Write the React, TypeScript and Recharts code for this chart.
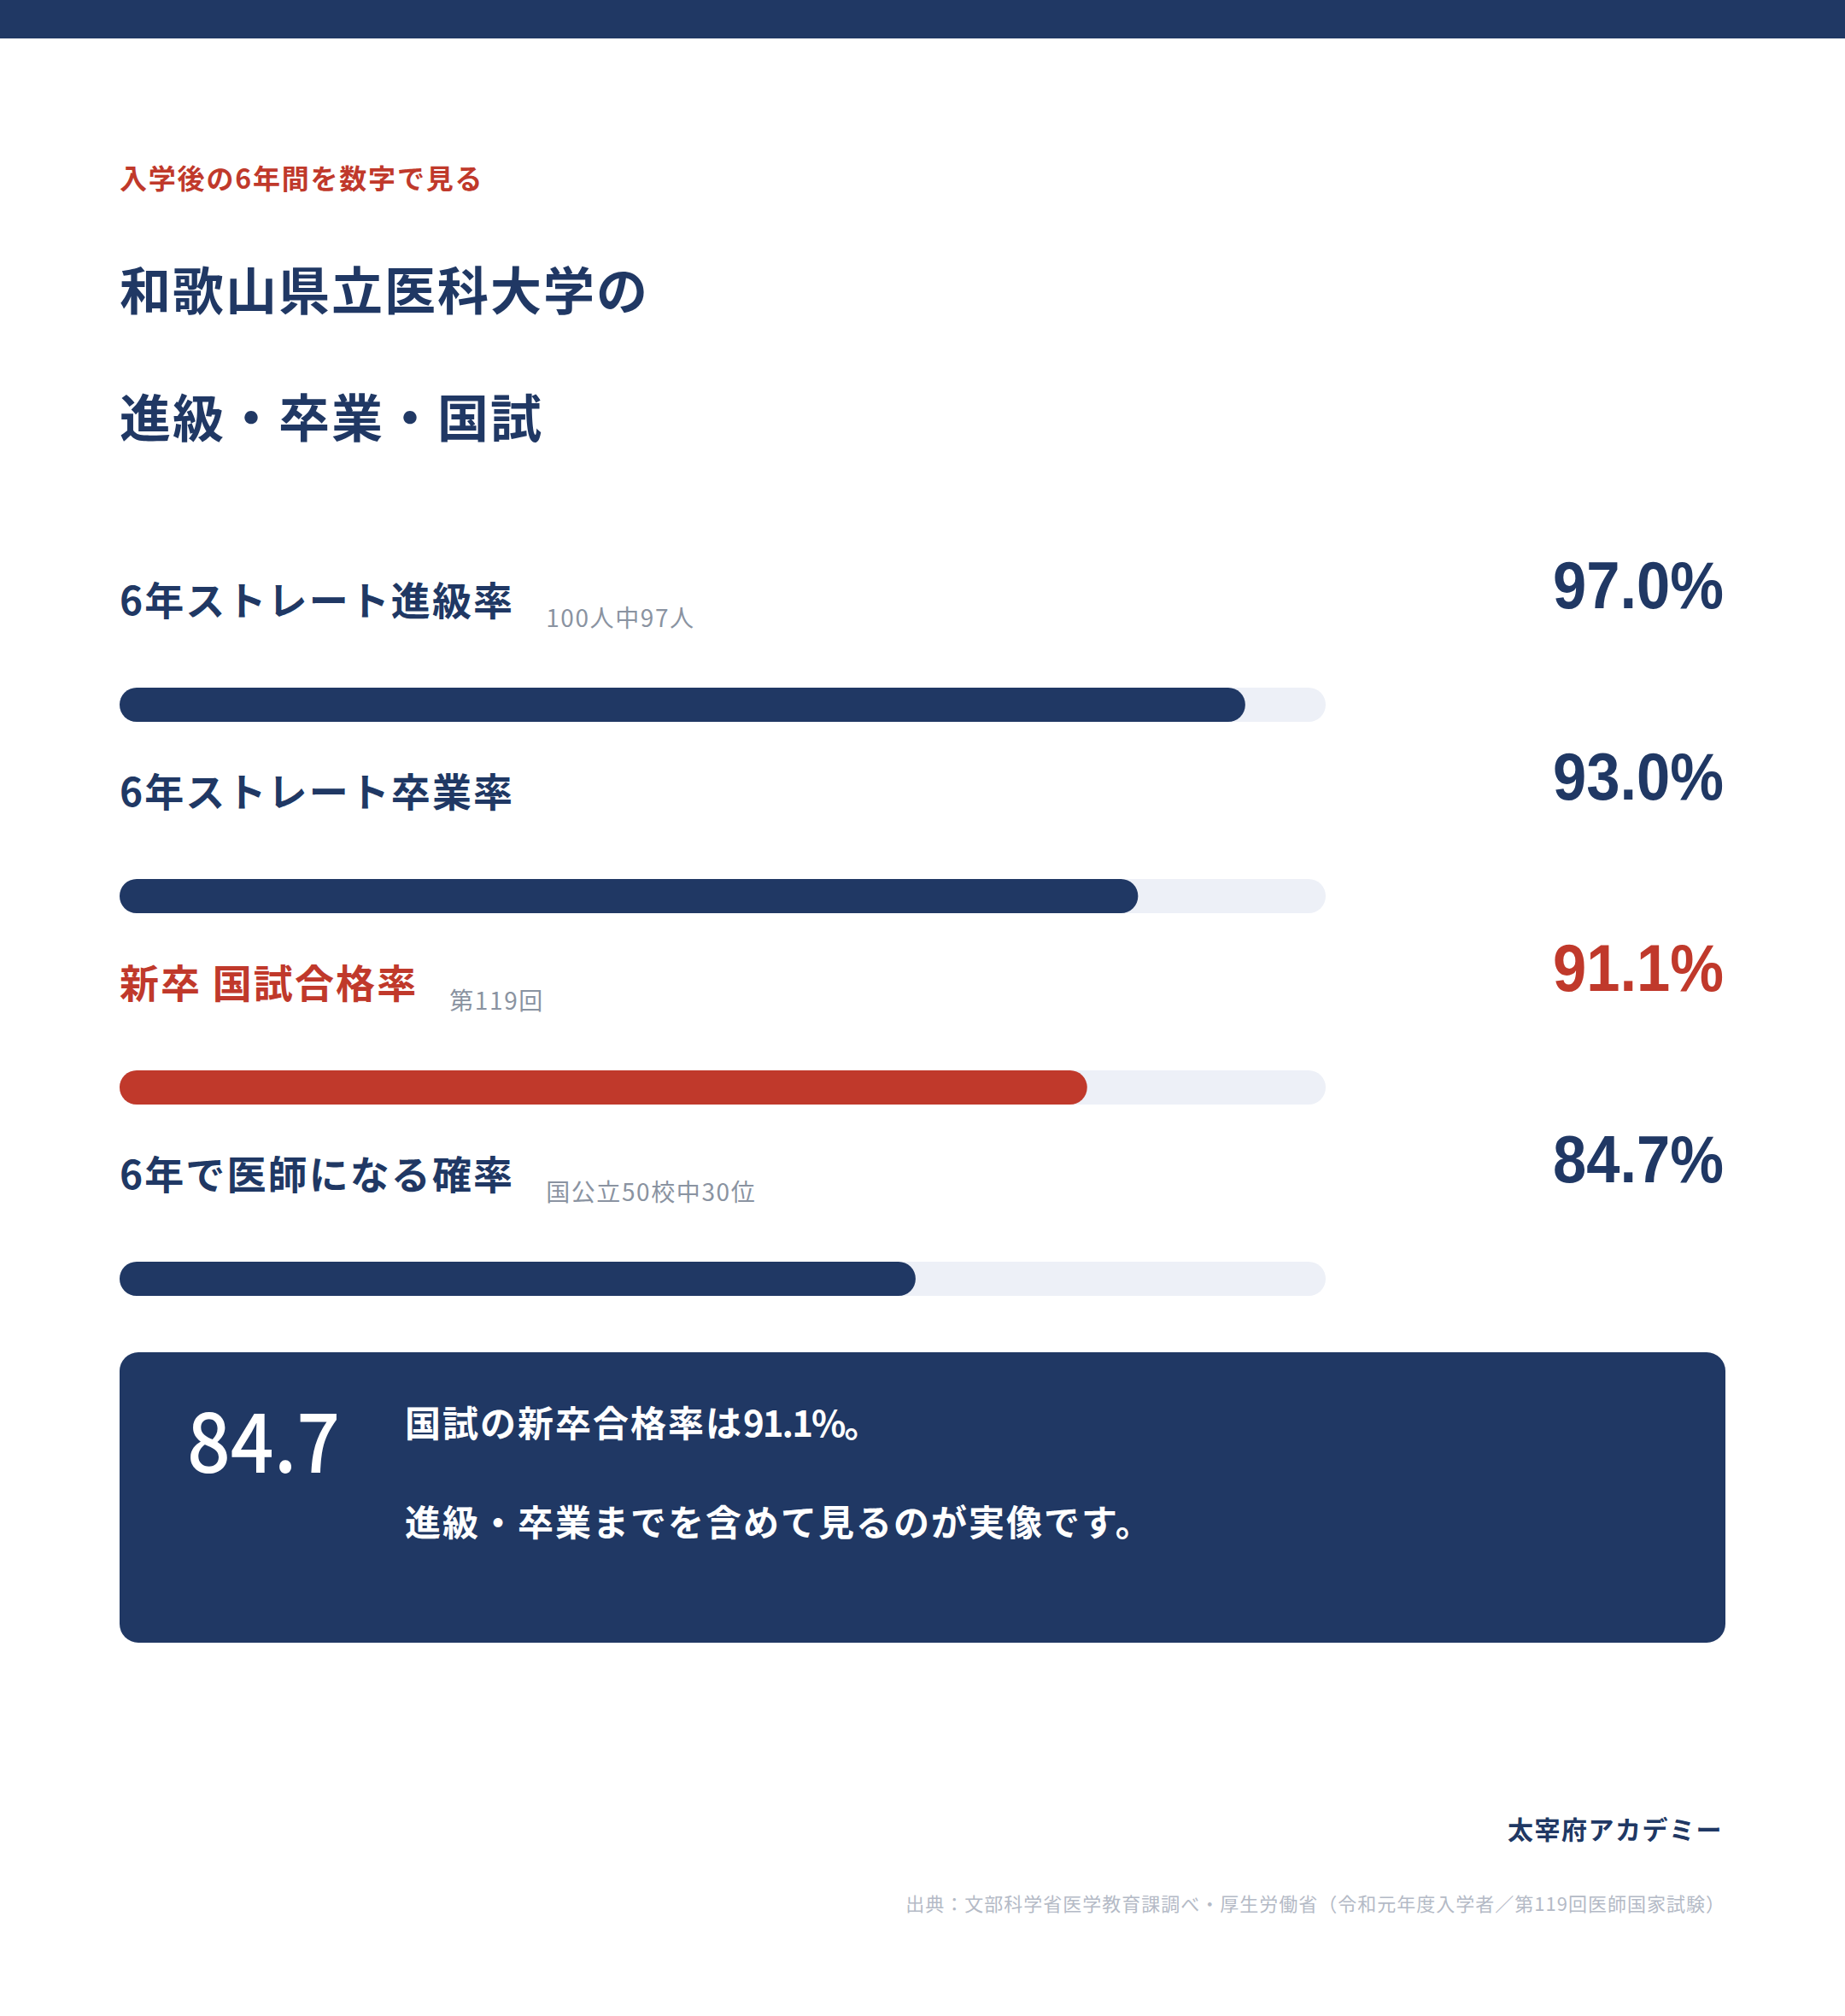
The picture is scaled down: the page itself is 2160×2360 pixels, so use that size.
import React from 'react';
import { BarChart, Bar, XAxis, YAxis, Cell } from 'recharts';

const NAVY = '#203864';
const RED = '#c0392b';
const TRACK = '#edf0f7';
const GRAY = '#8a93a1';
const JP = '"Noto Sans CJK JP", "Noto Sans", sans-serif';
const NUM = '"Liberation Sans", Arial, sans-serif';

const categories = ['6年ストレート進級率', '6年ストレート卒業率', '新卒 国試合格率', '6年で医師になる確率'];
const notes = ['100人中97人', '', '第119回', '国公立50校中30位'];
const values = [97.0, 93.0, 91.1, 84.7];
const highlight = [false, false, true, false];
const valueLabels = ['97.0%', '93.0%', '91.1%', '84.7%'];
const axisDomain = [55, 100];

const data = categories.map((name, i) => ({
  name,
  note: notes[i],
  value: values[i],
  label: valueLabels[i],
  hl: highlight[i],
}));

const LEFT = 140;
const RIGHT_TEXT = 2018;

const RowTick = (props: any) => {
  const { y, payload } = props;
  const i = payload.index;
  const d = data[i];
  const color = d.hl ? RED : NAVY;
  return (
    <g>
      <text x={LEFT} y={y - 105} fontFamily={JP} fontWeight={700} fontSize={46} letterSpacing={2.1} fill={color}>
        <tspan>{d.name}</tspan>
        {d.note ? (
          <tspan dx={37} dy={14} fontSize={28} fontWeight={400} letterSpacing={1.6} fill={GRAY}>
            {d.note}
          </tspan>
        ) : null}
      </text>
      <text
        x={RIGHT_TEXT}
        y={y - 113}
        textAnchor="end"
        fontFamily={NUM}
        fontWeight={700}
        fontSize={78}
        textLength={200}
        lengthAdjust="spacingAndGlyphs"
        fill={color}
      >
        {d.label}
      </text>
    </g>
  );
};

const abs = (style: React.CSSProperties): React.CSSProperties => ({ position: 'absolute', margin: 0, ...style });

export default function App() {
  return (
    <div style={{ position: 'absolute', left: 0, top: 0, width: 2160, height: 2360, background: '#ffffff', overflow: 'hidden' }}>
      <div style={abs({ left: 0, top: 0, width: 2160, height: 45, background: NAVY })} />

      <div style={abs({ left: 140, top: 191, fontFamily: JP, fontWeight: 700, fontSize: 32, lineHeight: '32px', letterSpacing: 1.8, color: RED, whiteSpace: 'nowrap' })}>
        入学後の6年間を数字で見る
      </div>
      <div style={abs({ left: 140, top: 307, fontFamily: JP, fontWeight: 700, fontSize: 60, lineHeight: '60px', letterSpacing: 2, color: NAVY, whiteSpace: 'nowrap' })}>
        和歌山県立医科大学の
      </div>
      <div style={abs({ left: 140, top: 456, fontFamily: JP, fontWeight: 700, fontSize: 60, lineHeight: '60px', letterSpacing: 2, color: NAVY, whiteSpace: 'nowrap' })}>
        進級・卒業・国試
      </div>

      <div style={abs({ left: 0, top: 600 })}>
        <BarChart
          width={2160}
          height={1009}
          data={data}
          layout="vertical"
          margin={{ top: 113, right: 608, bottom: 0, left: 0 }}
          barCategoryGap={0}
        >
          <XAxis type="number" domain={axisDomain} hide allowDataOverflow />
          <YAxis
            type="category"
            dataKey="name"
            width={140}
            axisLine={false}
            tickLine={false}
            tick={<RowTick />}
            interval={0}
          />
          <Bar
            dataKey="value"
            barSize={40}
            radius={20}
            background={{ fill: TRACK, radius: 20 }}
            isAnimationActive={false}
          >
            {data.map((d, i) => (
              <Cell key={i} fill={d.hl ? RED : NAVY} />
            ))}
          </Bar>
        </BarChart>
      </div>

      <div style={abs({ left: 140, top: 1583, width: 1880, height: 340, background: NAVY, borderRadius: 22 })} />
      <div style={abs({ left: 219, top: 1633, fontFamily: JP, fontWeight: 500, fontSize: 97, lineHeight: '97px', color: '#ffffff', whiteSpace: 'nowrap', transform: 'scaleX(0.92)', transformOrigin: 'left center' })}>
        84.7
      </div>
      <div style={abs({ left: 474, top: 1643, fontFamily: JP, fontWeight: 700, fontSize: 42, lineHeight: '42px', letterSpacing: 2, color: '#ffffff', whiteSpace: 'nowrap' })}>
        国試の新卒合格率は<span style={{ letterSpacing: -2 }}>91.1%</span>。
      </div>
      <div style={abs({ left: 474, top: 1759, fontFamily: JP, fontWeight: 700, fontSize: 42, lineHeight: '42px', letterSpacing: 2, color: '#ffffff', whiteSpace: 'nowrap' })}>
        進級・卒業までを含めて見るのが実像です。
      </div>

      <div style={abs({ right: 143, top: 2125, fontFamily: JP, fontWeight: 700, fontSize: 30, lineHeight: '30px', letterSpacing: 1.5, color: NAVY, whiteSpace: 'nowrap' })}>
        太宰府アカデミー
      </div>
      <div style={abs({ right: 140, top: 2216, fontFamily: JP, fontWeight: 400, fontSize: 22, lineHeight: '22px', letterSpacing: 1, color: '#b4bac6', whiteSpace: 'nowrap' })}>
        出典：文部科学省医学教育課調べ・厚生労働省（令和元年度入学者／第119回医師国家試験）
      </div>
    </div>
  );
}
